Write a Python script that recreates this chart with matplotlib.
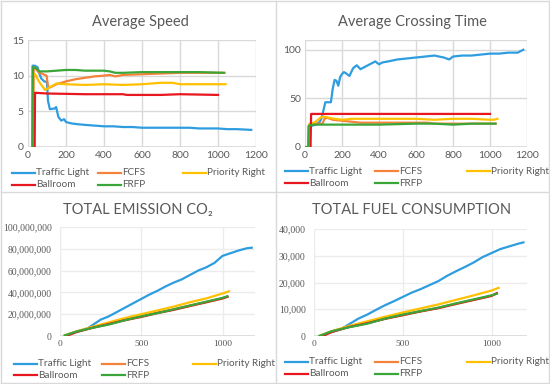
import matplotlib
matplotlib.use("Agg")
import matplotlib.pyplot as plt
from matplotlib.lines import Line2D
from matplotlib.ticker import FuncFormatter

W, H = 550, 384

names = ["Traffic Light", "FCFS", "Priority Right", "Ballroom", "FRFP"]
colors = ["#2E9DE0", "#F5823A", "#FFC000", "#E8161E", "#3AA63A"]

# --- Average Speed ---
speed_x = [
    [22, 24, 35, 50, 58, 70, 85, 100, 105, 115, 140, 148, 160, 175, 190, 200, 230, 260, 300, 350, 400, 450,
     500, 550, 600, 700, 800, 850, 900, 1000, 1050, 1100, 1175],
    [28, 30, 40, 55, 80, 98, 106, 120, 150, 200, 250, 300, 350, 400, 430, 460, 500, 600, 700, 800, 900, 1000, 1035],
    [25, 27, 40, 55, 70, 90, 110, 150, 200, 300, 400, 500, 600, 700, 760, 800, 900, 1040],
    [35, 37, 100, 300, 500, 520, 700, 800, 1000],
    [24, 26, 45, 60, 100, 150, 200, 250, 300, 350, 400, 430, 460, 500, 600, 700, 800, 900, 1030],
]
speed_y = [
    [0, 11.4, 11.4, 11.2, 10.4, 9.6, 9.2, 9.1, 6.5, 5.3, 5.4, 5.6, 4.2, 3.7, 3.9, 3.5, 3.3, 3.2, 3.1, 3.0, 2.9, 2.9,
     2.8, 2.8, 2.7, 2.7, 2.7, 2.7, 2.6, 2.6, 2.5, 2.5, 2.4],
    [0, 11.2, 11.0, 10.5, 10.2, 10.0, 8.3, 8.4, 8.8, 9.2, 9.5, 9.7, 9.9, 10.0, 10.1, 9.9, 10.1, 10.2, 10.3, 10.4, 10.4, 10.4, 10.4],
    [0, 10.4, 10.1, 9.3, 8.7, 8.0, 8.3, 8.9, 8.8, 8.7, 8.8, 8.7, 8.8, 9.0, 9.0, 8.8, 8.8, 8.8],
    [0, 7.6, 7.5, 7.4, 7.4, 7.3, 7.3, 7.4, 7.3],
    [0, 11.2, 11.0, 10.6, 10.6, 10.7, 10.8, 10.8, 10.7, 10.7, 10.7, 10.6, 10.4, 10.4, 10.5, 10.5, 10.5, 10.5, 10.4],
]

# --- Average Crossing Time ---
cross_x = [
    [18, 20, 40, 60, 80, 90, 100, 110, 140, 150, 160, 170, 180, 190, 200, 210, 220, 240, 260, 280, 300, 320, 340,
     360, 380, 400, 420, 450, 500, 550, 600, 650, 700, 750, 780, 800, 850, 900, 950, 1000, 1050, 1100, 1150, 1180],
    [25, 27, 60, 95, 105, 120, 150, 200, 250, 300, 400, 500, 600, 660, 700, 800, 900, 1030],
    [22, 24, 50, 70, 90, 110, 130, 160, 200, 250, 300, 400, 500, 600, 700, 800, 900, 1000, 1020, 1040],
    [30, 33, 1000],
    [0, 18, 20, 50, 100, 200, 400, 600, 700, 800, 900, 1030],
]
cross_y = [
    [0, 21, 22, 23, 26, 30, 38, 46, 46, 60, 69, 68, 63, 72, 75, 77, 76, 73, 81, 84, 80, 82, 84, 86, 88, 85, 87,
     88, 90, 91, 92, 93, 94, 92, 90, 93, 94, 94, 95, 96, 96, 97, 97, 100],
    [0, 22, 24, 24, 29, 30, 28, 27, 26, 25, 25, 25, 25, 25, 24, 24, 24, 24],
    [0, 24, 25, 28, 31, 31, 30, 29, 28, 29, 29, 29, 29, 29, 28, 29, 29, 28, 28, 29],
    [0, 34, 34],
    [0, 0, 22, 23, 23, 23, 23, 24, 24, 23, 24, 24],
]

# --- Total Emission CO2 (millions) ---
co2_x = [
    [30, 100, 170, 200, 250, 300, 350, 400, 450, 500, 550, 600, 650, 700, 750, 800, 850, 900, 950, 1000, 1050,
     1100, 1150, 1180],
    [30, 100, 200, 300, 400, 500, 600, 700, 800, 900, 1000, 1030],
    [30, 100, 200, 300, 400, 500, 600, 700, 800, 900, 1000, 1040],
    [40, 100, 200, 300, 400, 500, 600, 700, 800, 900, 1000, 1030],
    [30, 100, 200, 300, 400, 500, 600, 700, 800, 900, 1000, 1030],
]
co2_y = [
    [0.5, 4, 7, 10, 15, 18, 22, 26, 30, 34, 38, 41.5, 45.5, 49, 52, 56, 60, 63, 67, 73.5, 76, 78.5, 80.5, 81],
    [0.5, 4, 8, 11.5, 15, 18, 21.5, 24.5, 28, 31, 34.5, 36],
    [0.5, 4, 8.5, 12.5, 16.5, 20, 23.5, 27, 31, 34.5, 39, 41],
    [0, 3.5, 7.5, 11, 14.5, 17.5, 21, 24, 27.5, 31, 34.5, 36],
    [0.5, 4, 7.5, 10.5, 14.5, 18, 21, 24.5, 28, 31.5, 35, 36.5],
]

# --- Total Fuel Consumption (thousands) ---
fuel_x = [
    [30, 100, 150, 200, 250, 300, 350, 400, 450, 500, 550, 600, 650, 700, 750, 800, 850, 900, 950, 1000, 1050,
     1100, 1150, 1180],
    [30, 100, 200, 300, 400, 500, 600, 700, 800, 900, 1000, 1030],
    [30, 100, 200, 300, 400, 500, 600, 700, 800, 900, 1000, 1040],
    [50, 100, 200, 300, 400, 500, 600, 700, 800, 900, 1000, 1030],
    [30, 100, 200, 300, 400, 500, 600, 700, 800, 900, 1000, 1030],
]
fuel_y = [
    [0, 1.5, 2.5, 4.5, 6.5, 8, 9.8, 11.5, 13, 14.6, 16.2, 17.5, 19, 20.5, 22.5, 24.2, 25.8, 27.5, 29.5, 31,
     32.5, 33.5, 34.5, 35],
    [0, 1.7, 3.5, 4.8, 6.5, 7.8, 9.2, 10.5, 12, 13.5, 15, 16],
    [0, 1.8, 3.8, 5.5, 7.2, 8.8, 10.3, 11.8, 13.5, 15.2, 17, 18],
    [0, 1.5, 3.4, 4.8, 6.4, 7.8, 9.2, 10.4, 12, 13.5, 15, 16],
    [0, 1.8, 3.3, 4.6, 6.5, 8, 9.3, 10.6, 12.2, 13.7, 15.2, 15.8],
]

TXT = "#595959"
GRID = "#d9d9d9"
SANS = ["Lato", "DejaVu Sans"]
SERIF = ["Liberation Serif", "DejaVu Serif"]

fig = plt.figure(figsize=(W / 100, H / 100), dpi=100)
fig.patch.set_facecolor("white")


def fx(px):
    return px / W


def fy(py):
    return 1 - py / H


def make_ax(l, t, r, b):
    return fig.add_axes([fx(l), fy(b), (r - l) / W, (b - t) / H])


def style(ax, grid_color, font, ysize, xsize):
    for s in ax.spines.values():
        s.set_visible(False)
    ax.grid(True, color=grid_color, linewidth=1)
    ax.set_axisbelow(True)
    ax.tick_params(length=0, colors=TXT, pad=3)
    for lab in ax.get_yticklabels():
        lab.set_family(font)
        lab.set_fontsize(ysize)
    for lab in ax.get_xticklabels():
        lab.set_family(font)
        lab.set_fontsize(xsize)
    ax.axhline(ax.get_ylim()[0], color=GRID, linewidth=1.2, zorder=1)


def legend(lines, x_cols, rows):
    # row-major: Traffic Light, FCFS, Priority Right / Ballroom, FRFP
    slots = [(0, 0), (1, 0), (2, 0), (0, 1), (1, 1)]
    for ln, (c, r) in zip(lines, slots):
        x0 = x_cols[c]
        y0 = rows[r]
        fig.add_artist(Line2D([fx(x0), fx(x0 + 23)], [fy(y0), fy(y0)], color=ln.get_color(), linewidth=1.6))
        fig.text(fx(x0 + 24), fy(y0), ln.get_label(), fontsize=7.2, color=TXT, family=SANS, va="center", ha="left")


def plot_series(ax, xs, ys):
    lines = []
    for x, y, n, c in zip(xs, ys, names, colors):
        ln, = ax.plot(x, y, color=c, linewidth=1.6, label=n, solid_joinstyle="round")
        lines.append(ln)
    return lines


# panel frames
for seg in [([1, 549], [1, 1]), ([1, 549], [383, 383]), ([1, 1], [1, 383]), ([549, 549], [1, 383]),
            ([276, 276], [1, 383]), ([1, 549], [192, 192])]:
    fig.add_artist(Line2D([fx(v) for v in seg[0]], [fy(v) for v in seg[1]], color=GRID, linewidth=1))

# Average Speed
ax1 = make_ax(28, 40, 256, 147)
l1 = plot_series(ax1, speed_x, speed_y)
ax1.set_xlim(0, 1200)
ax1.set_ylim(0, 15)
ax1.set_xticks(range(0, 1201, 200))
ax1.set_yticks([0, 5, 10, 15])
style(ax1, GRID, SANS, 7.5, 7.5)
fig.text(fx(140), fy(22), "Average Speed", fontsize=10.5, color=TXT, family=SANS, ha="center", va="center")
legend(l1, [12, 98, 183], [173, 185])

# Average Crossing Time
ax2 = make_ax(305, 40, 527, 147)
l2 = plot_series(ax2, cross_x, cross_y)
ax2.set_xlim(0, 1200)
ax2.set_ylim(0, 110)
ax2.set_xticks(range(0, 1201, 200))
ax2.set_yticks([0, 50, 100])
style(ax2, GRID, SANS, 7.5, 7.5)
ax2.axhline(110, color=GRID, linewidth=1, zorder=0)
fig.text(fx(412), fy(22), "Average Crossing Time", fontsize=10.5, color=TXT, family=SANS, ha="center", va="center")
legend(l2, [285, 375, 467], [171, 183])

# Total Emission CO2
ax3 = make_ax(60, 227, 255, 336)
l3 = plot_series(ax3, co2_x, [[v * 1e6 for v in s] for s in co2_y])
ax3.set_xlim(0, 1200)
ax3.set_ylim(0, 100e6)
ax3.set_xticks([0, 500, 1000])
ax3.set_yticks(range(0, 100000001, 20000000))
ax3.yaxis.set_major_formatter(FuncFormatter(lambda v, p: "{:,.0f}".format(v)))
style(ax3, "#ececec", SERIF, 7, 6.8)
ax3.tick_params(axis="y", pad=6)
ax3.axvline(0, color="#ececec", linewidth=1, zorder=0)
fig.text(fx(138), fy(210), "TOTAL EMISSION CO\u2082", fontsize=10.5, color=TXT, family=SANS, ha="center", va="center")
legend(l3, [14, 102, 193], [364, 375])

# Total Fuel Consumption
ax4 = make_ax(314, 229, 527, 336)
l4 = plot_series(ax4, fuel_x, [[v * 1e3 for v in s] for s in fuel_y])
ax4.set_xlim(0, 1200)
ax4.set_ylim(0, 40000)
ax4.set_xticks([0, 500, 1000])
ax4.set_yticks(range(0, 40001, 10000))
ax4.yaxis.set_major_formatter(FuncFormatter(lambda v, p: "{:,.0f}".format(v)))
style(ax4, "#ececec", SERIF, 7, 6.8)
ax4.tick_params(axis="y", pad=6)
fig.text(fx(412), fy(210), "TOTAL FUEL CONSUMPTION", fontsize=10.5, color=TXT, family=SANS, ha="center", va="center")
legend(l4, [285, 375, 467], [362, 374])

fig.savefig("out.png", dpi=100)
